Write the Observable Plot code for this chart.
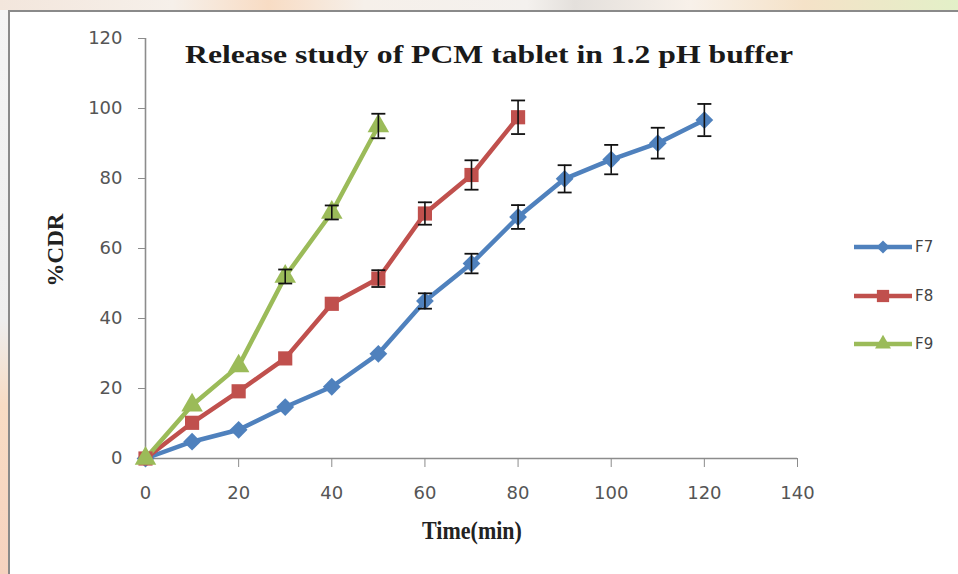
<!DOCTYPE html>
<html>
<head>
<meta charset="utf-8">
<script src="https://cdn.jsdelivr.net/npm/d3@7"></script>
<script src="https://cdn.jsdelivr.net/npm/@observablehq/plot@0.6"></script>
<style>
  html, body { margin: 0; padding: 0; }
  body {
    width: 958px; height: 574px; overflow: hidden; position: relative;
    background: linear-gradient(90deg, #f3e6dc 0%, #f6f0ea 18%, #f8dcc4 28%, #f6f0ea 38%, #f4f1ee 55%, #e4e0dc 60%, #f8f1ea 72%, #f5e2c8 84%, #e3f0c8 100%);
  }
  #frame {
    position: absolute; left: 8px; top: 10px; width: 960px; height: 570px;
    background: #ffffff; border-left: 2px solid #8a8a8a; border-top: 2px solid #8a8a8a;
    box-sizing: border-box;
  }
  #leftstrip {
    position: absolute; left: 0; top: 10px; width: 8px; height: 564px;
    background: linear-gradient(180deg, #f4f4f4 0%, #eeeeee 55%, #f8dcc4 70%, #f6d2bf 100%);
  }
  #chart { position: absolute; left: 0; top: 0; }
  #title {
    position: absolute; left: 185px; top: 41px; white-space: nowrap;
    font-family: "Liberation Serif", "Times New Roman", serif; font-weight: bold;
    font-size: 25px; color: #1a1a1a; transform-origin: 0 0;
  }
  .axlabel {
    position: absolute; font-family: "Liberation Serif", "Times New Roman", serif;
    font-weight: bold; color: #222; white-space: nowrap;
  }
  #legend { position: absolute; left: 852px; top: 0; }
  .leg { position: absolute; left: 0; width: 100px; height: 20px; }
  .leg span {
    position: absolute; left: 63px; top: 0; font-family: "DejaVu Sans", Verdana, sans-serif;
    font-size: 15px; color: #444; line-height: 20px;
  }
</style>
</head>
<body>
<div id="leftstrip"></div>
<div id="frame"></div>
<div id="chart"></div>
<div id="title">Release study of PCM tablet in 1.2 pH buffer</div>
<div class="axlabel" id="ylab" style="left:56px;top:250px;font-size:23px;transform:translate(-50%,-50%) rotate(-90deg);">%CDR</div>
<div class="axlabel" id="xlab" style="left:472px;top:531px;font-size:22px;transform:translate(-50%,-50%) scaleY(1.1);">Time(min)</div>
<div id="legend"></div>
<script>
// ---- data ----
const seriesNames = ["F7", "F8", "F9"];
const seriesColors = ["#4F81BD", "#C0504D", "#9BBB59"];
const seriesSymbols = ["diamond2", "square", "triangle"];

const f7Time = [0, 10, 20, 30, 40, 50, 60, 70, 80, 90, 100, 110, 120];
const f7CDR  = [0, 4.8, 8.2, 14.7, 20.5, 29.9, 45, 55.7, 69, 79.9, 85.4, 90.1, 96.7];
const f7Err  = [0, 0, 0, 0, 0, 0, 2.2, 2.8, 3.4, 3.9, 4.2, 4.4, 4.6];

const f8Time = [0, 10, 20, 30, 40, 50, 60, 70, 80];
const f8CDR  = [0, 10.2, 19.2, 28.6, 44.2, 51.4, 70, 81, 97.5];
const f8Err  = [0, 0, 0, 0, 0, 2.4, 3.2, 4.2, 4.8];

const f9Time = [0, 10, 20, 30, 40, 50];
const f9CDR  = [0, 15.2, 26.4, 52, 70.3, 95];
const f9Err  = [0, 0, 0, 2, 2, 3.5];

const xTicks = [0, 20, 40, 60, 80, 100, 120, 140];
const yTicks = [0, 20, 40, 60, 80, 100, 120];

// ---- build table ----
const rows = [];
[[f7Time, f7CDR, f7Err], [f8Time, f8CDR, f8Err], [f9Time, f9CDR, f9Err]].forEach(([t, v, e], i) => {
  t.forEach((tt, j) => rows.push({series: seriesNames[i], time: tt, cdr: v[j], err: e[j]}));
});
const errRows = rows.filter(d => d.err > 0);

const cap = { draw(ctx, size) { const w = 7; ctx.moveTo(-w, 0); ctx.lineTo(w, 0); } };

const chart = Plot.plot({
  width: 958,
  height: 574,
  marginLeft: 145,
  marginRight: 161,
  marginTop: 38,
  marginBottom: 116,
  style: {background: "transparent", fontFamily: "'DejaVu Sans', Verdana, sans-serif", fontSize: "18px"},
  x: {domain: [0, 140], ticks: xTicks, label: null},
  y: {domain: [0, 120], ticks: yTicks, label: null},
  color: {domain: seriesNames, range: seriesColors},
  symbol: {domain: seriesNames, range: seriesSymbols},
  marks: [
    Plot.ruleX([0], {stroke: "#8c8c8c", strokeWidth: 1.6}),
    Plot.ruleY([0], {stroke: "#8c8c8c", strokeWidth: 1.6}),
    Plot.axisY({ticks: yTicks, tickSize: 7, tickPadding: 16, stroke: "#8c8c8c", color: "#555", fontSize: 18, textAnchor: "end"}),
    Plot.axisX({ticks: xTicks, tickSize: 9, tickPadding: 19, stroke: "#8c8c8c", color: "#555", fontSize: 18}),
    Plot.line(rows, {x: "time", y: "cdr", z: "series", stroke: "series", strokeWidth: 4.5, strokeLinejoin: "round"}),
    Plot.dot(rows, {x: "time", y: "cdr", fill: "series", symbol: "series", r: 8, stroke: "none"}),
    Plot.ruleX(errRows, {x: "time", y1: d => d.cdr - d.err, y2: d => d.cdr + d.err, stroke: "#111", strokeWidth: 1.6}),
    Plot.dot(errRows, {x: "time", y: d => d.cdr + d.err, symbol: cap, r: 5, stroke: "#111", strokeWidth: 1.8}),
    Plot.dot(errRows, {x: "time", y: d => d.cdr - d.err, symbol: cap, r: 5, stroke: "#111", strokeWidth: 1.8})
  ]
});
document.getElementById("chart").appendChild(chart);

// title: stretch to the reference width
const title = document.getElementById("title");
const tw = title.getBoundingClientRect().width;
title.style.transform = `scale(${608 / tw}, 1)`;

// legend
const legY = [247, 296, 344];
const legend = document.getElementById("legend");
seriesNames.forEach((name, i) => {
  const div = document.createElement("div");
  div.className = "leg";
  div.style.top = (legY[i] - 10) + "px";
  const sym = d3.symbol(i === 0 ? d3.symbolDiamond2 : i === 1 ? d3.symbolSquare : d3.symbolTriangle, i === 1 ? 150 : 110)();
  div.innerHTML = `<svg width="62" height="20" style="position:absolute;left:0;top:0">
    <line x1="2" y1="10" x2="60" y2="10" stroke="${seriesColors[i]}" stroke-width="4.5"/>
    <path d="${sym}" transform="translate(31,10)" fill="${seriesColors[i]}"/></svg><span>${name}</span>`;
  legend.appendChild(div);
});
</script>
</body>
</html>
